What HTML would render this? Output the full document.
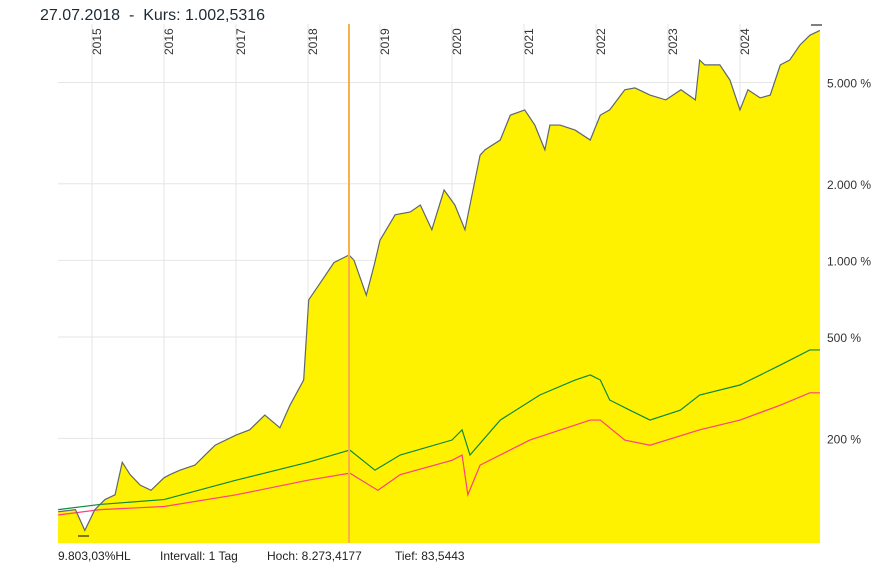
<!DOCTYPE html>
<html><head><meta charset="utf-8"><style>
body{margin:0;background:#fff;font-family:"Liberation Sans",sans-serif}
svg{display:block}
</style></head><body>
<svg id="c" width="889" height="568">
<text x="40" y="20" font-size="16" fill="#1e2a33" style="white-space:pre">27.07.2018  -  Kurs: 1.002,5316</text>
<g id="grid"></g>
<g id="series"></g>
<g id="labels"></g>
<line x1="349" x2="349" y1="24" y2="543" stroke="#f7b04a" stroke-width="2"/>
<line x1="78" x2="89" y1="536" y2="536" stroke="#000" stroke-width="1"/>
<line x1="811" x2="822" y1="25" y2="25" stroke="#000" stroke-width="1"/>
<text x="58" y="560" font-size="12" fill="#222">9.803,03%HL</text>
<text x="160" y="560" font-size="12" fill="#222">Intervall: 1 Tag</text>
<text x="267" y="560" font-size="12" fill="#222">Hoch: 8.273,4177</text>
<text x="395" y="560" font-size="12" fill="#222">Tief: 83,5443</text>
</svg>
<script>
const yearTicks=[2015,2016,2017,2018,2019,2020,2021,2022,2023,2024];
const pctTicks=[200,500,1000,2000,5000];
const pctLabels=["200 %","500 %","1.000 %","2.000 %","5.000 %"];
const mainDates=[2014.53,2014.77,2014.9,2015.04,2015.18,2015.32,2015.42,2015.53,2015.67,2015.82,2016.0,2016.08,2016.22,2016.43,2016.57,2016.71,2017.0,2017.19,2017.4,2017.61,2017.75,2017.94,2018.01,2018.15,2018.36,2018.57,2018.64,2018.81,2018.92,2019.0,2019.21,2019.42,2019.56,2019.72,2019.89,2020.04,2020.18,2020.39,2020.46,2020.67,2020.81,2021.01,2021.15,2021.29,2021.36,2021.5,2021.71,2021.92,2022.06,2022.19,2022.4,2022.54,2022.75,2022.97,2023.18,2023.38,2023.44,2023.51,2023.72,2023.86,2024.0,2024.11,2024.28,2024.42,2024.56,2024.69,2024.83,2024.97,2025.11];
const mainValues=[103,105,87,105,115,120,161,144,131,125,140,144,150,157,172,188,206,216,247,220,270,339,700,800,980,1050,1000,730,960,1200,1510,1550,1650,1320,1890,1650,1320,2590,2720,2970,3720,3900,3400,2720,3400,3400,3250,2970,3720,3900,4680,4760,4460,4270,4680,4270,6120,5860,5860,5110,3900,4680,4350,4460,5860,6120,7000,7660,8000];
const greenDates=[2014.53,2015.11,2016.0,2017.0,2018.0,2018.58,2018.93,2019.28,2020.0,2020.14,2020.25,2020.67,2021.22,2021.71,2021.92,2022.06,2022.19,2022.47,2022.75,2023.17,2023.44,2024.0,2024.56,2024.97,2025.11];
const greenValues=[105,110,115,137,161,180,150,172,197,216,172,236,296,339,355,339,283,258,236,258,296,324,388,445,445];
const pinkDates=[2014.53,2015.11,2016.0,2017.0,2018.0,2018.58,2018.97,2019.28,2020.0,2020.14,2020.22,2020.39,2021.08,2021.92,2022.06,2022.4,2022.75,2023.44,2024.0,2024.56,2024.97,2025.11];
const pinkValues=[100,105,108,120,137,146,125,144,164,172,120,157,197,236,236,197,188,216,236,270,302,302];

const NS="http://www.w3.org/2000/svg";
const X0=58,X1=820,Y0=24,Y1=543;
const xs=d=>92+(d-2015)*72;
const ys=v=>515-254.6*Math.log10(v/100);
function mk(t,a,p){const e=document.createElementNS(NS,t);for(const k in a)e.setAttribute(k,a[k]);p.appendChild(e);return e;}
const grid=document.getElementById('grid'),ser=document.getElementById('series'),lab=document.getElementById('labels');
yearTicks.forEach(yr=>{
  const x=xs(yr);
  const l=mk('line',{x1:x,x2:x,y1:Y0,y2:Y1,stroke:'#e6e6e6'},grid);
  
  
  const t=mk('text',{x:0,y:0,'font-size':12,fill:'#333',transform:`translate(${x+9},55) rotate(-90)`},lab);
  t.textContent=yr;
  
  
});
pctTicks.forEach((v,i)=>{
  const y=ys(v);
  const l=mk('line',{x1:X0,x2:X1,y1:y,y2:y,stroke:'#e6e6e6'},grid);
  
  
  const t=mk('text',{x:827,y:y+5,'font-size':12,fill:'#333'},lab);
  t.textContent=pctLabels[i];
  
  
});
function pts(d,v){return d.map((dd,i)=>[Math.min(X1,Math.max(X0,xs(dd))),ys(v[i])]);}
const mp=pts(mainDates,mainValues);
const area=mk('path',{d:'M'+X0+','+Y1+' L'+mp.map(p=>p.join(',')).join(' L')+' L'+X1+','+Y1+' Z',fill:'#fff200'},ser);


const gl=mk('polyline',{points:pts(greenDates,greenValues).map(p=>p.join(',')).join(' '),fill:'none',stroke:'#0a8a3a','stroke-width':1.2},ser);


const pl=mk('polyline',{points:pts(pinkDates,pinkValues).map(p=>p.join(',')).join(' '),fill:'none',stroke:'#ff3d7f','stroke-width':1.2},ser);


const ml=mk('polyline',{points:mp.map(p=>p.join(',')).join(' '),fill:'none',stroke:'#5f6670','stroke-width':1.2},ser);


</script>
</body></html>
